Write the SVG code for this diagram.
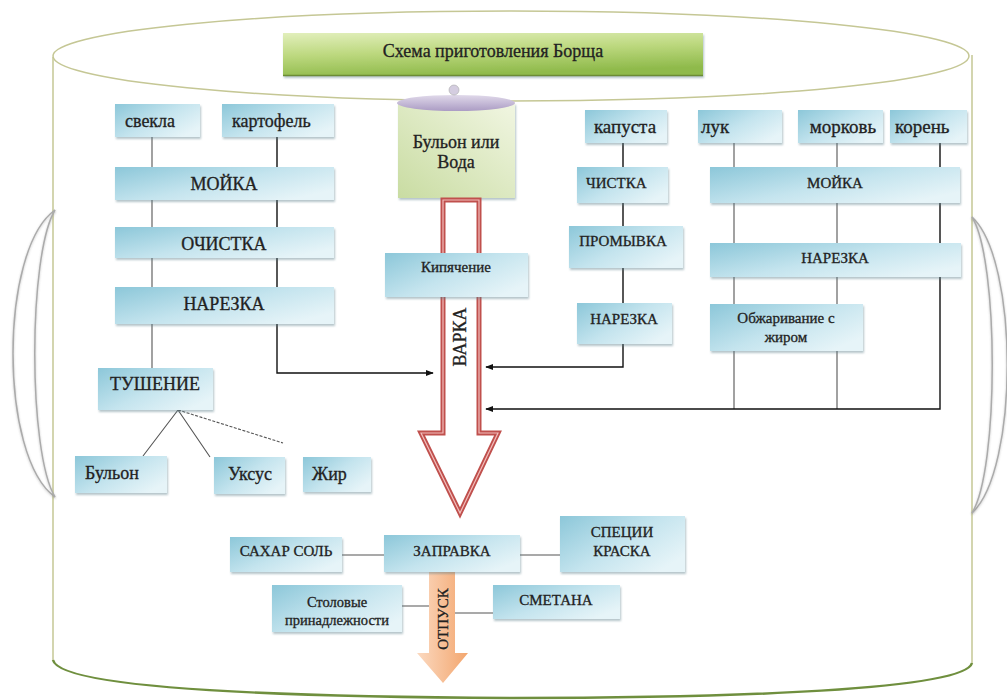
<svg xmlns="http://www.w3.org/2000/svg" width="1007" height="700" viewBox="0 0 1007 700">
<defs>
<linearGradient id="gBox" x1="0" y1="0" x2="1" y2="0.7">
<stop offset="0" stop-color="#8cc7d9"/>
<stop offset="0.55" stop-color="#c4e4ee"/>
<stop offset="1" stop-color="#e6f4f8"/>
</linearGradient>
<linearGradient id="gTitle" x1="0" y1="0" x2="0.3" y2="1">
<stop offset="0" stop-color="#e2efbc"/>
<stop offset="0.5" stop-color="#bcd87e"/>
<stop offset="1" stop-color="#8fba4b"/>
</linearGradient>
<linearGradient id="gPot" x1="0" y1="1" x2="1" y2="0">
<stop offset="0" stop-color="#c9dca2"/>
<stop offset="1" stop-color="#f1f6e2"/>
</linearGradient>
<linearGradient id="gLid" x1="0" y1="0" x2="0" y2="1">
<stop offset="0" stop-color="#e0d9ea"/>
<stop offset="1" stop-color="#ab9cc4"/>
</linearGradient>
<linearGradient id="gOut" x1="0" y1="0" x2="1" y2="0">
<stop offset="0" stop-color="#fbd9c0"/>
<stop offset="1" stop-color="#f3a66e"/>
</linearGradient>
<filter id="sh" x="-10%" y="-20%" width="120%" height="150%">
<feDropShadow dx="1" dy="2" stdDeviation="1.2" flood-color="#5a7f8a" flood-opacity="0.45"/>
</filter>
<filter id="shl" x="-50%" y="-10%" width="200%" height="120%">
<feDropShadow dx="0" dy="1" stdDeviation="1" flood-color="#777" flood-opacity="0.4"/>
</filter>
<marker id="ah" viewBox="0 0 10 10" refX="9" refY="5" markerWidth="8" markerHeight="8" orient="auto" markerUnits="userSpaceOnUse">
<path d="M0,1 L10,5 L0,9 Z" fill="#111"/>
</marker>
<style>
.box{fill:url(#gBox);filter:url(#sh);}
.t{font-family:"Liberation Serif","DejaVu Serif",serif;fill:#222;stroke:#222;stroke-width:0.3;font-size:18px;}
.m{font-size:15px;}
.s{font-size:14.5px;}
.l{font-size:19px;}
.c{text-anchor:middle;}
.ln{stroke:#555;stroke-width:1.1;fill:none;}
.ar{stroke:#111;stroke-width:1.4;fill:none;marker-end:url(#ah);}
.pot{fill:none;stroke:#c5c795;stroke-width:1.5;}
.hd{fill:none;stroke:#ababab;stroke-width:1.5;filter:url(#shl);}
</style>
</defs>
<rect width="1007" height="700" fill="#fff"/>

<g id="cylinder">
<ellipse class="pot" cx="511" cy="56" rx="458" ry="45"/>
<line class="pot" x1="53" y1="57" x2="53" y2="660"/>
<line class="pot" x1="972" y1="55" x2="972" y2="663"/>
<path d="M53,660 C60,690 300,697 513,698 C730,698 965,690 972,663" fill="none" stroke="#6f8f3e" stroke-width="2.5"/>
<path class="hd" d="M55,210 C-1,250 -1,457 55,497"/>
<path class="hd" d="M55,210 C28,255 28,452 55,497"/>
<path class="hd" d="M972,217 C1019,260 1019,470 972,513"/>
<path class="hd" d="M972,217 C999,260 999,470 972,513"/>
</g>

<g id="title">
<rect x="283" y="33" width="420" height="43" fill="url(#gTitle)" filter="url(#sh)"/>
<line x1="283" y1="75.5" x2="703" y2="75.5" stroke="#6b8c35" stroke-width="1.5"/>
<text class="t c" x="493" y="57" font-size="19">Схема приготовления Борща</text>
</g>

<g id="connectors">
<path class="ln" d="M152,137 V368"/>
<path class="ar" d="M277,137 V373 H433"/>
<path class="ln" d="M178,410 L143,456 M178,410 L210,457"/>
<path class="ln" d="M178,410 L283,443" stroke-dasharray="3,1.5"/>
<path class="ar" d="M623,143 V367 H486"/>
<path class="ln" d="M734,143 V409 M837,143 V409"/>
<path class="ar" d="M940,143 V409 H486"/>
<path class="ln" d="M342,555 H384 M520,555 H560"/>
<path class="ln" d="M402,606 H430 M455,613 H493"/>
</g>

<g id="pot">
<rect x="398" y="103" width="117" height="95" fill="url(#gPot)" filter="url(#sh)"/>
<ellipse cx="456" cy="103" rx="59" ry="8" fill="url(#gLid)"/>
<circle cx="454" cy="90" r="5" fill="#d4cde0" stroke="#aaa" stroke-width="0.6"/>
<text class="t c" x="456" y="148">Бульон или</text>
<text class="t c" x="456" y="168">Вода</text>
</g>

<g id="varka">
<path d="M443,200 L479,200 L479,433 L498,433 L460,513 L421,433 L443,433 Z" fill="#fff" stroke="#c0504d" stroke-width="5" stroke-linejoin="miter"/>
<path d="M443,200 L479,200 L479,433 L498,433 L460,513 L421,433 L443,433 Z" fill="none" stroke="#f2bdbb" stroke-width="1.2"/>
<text class="t c" transform="translate(466,337) rotate(-90)">ВАРКА</text>
</g>

<g id="kipyachenie"><rect class="box" x="385" y="253" width="143" height="44"/><text class="t m c" x="456" y="272">Кипячение</text></g>

<g id="svekla"><rect class="box" x="115" y="104" width="85" height="33"/><text class="t" x="125" y="127">свекла</text></g>
<g id="kartofel"><rect class="box" x="222" y="104" width="112" height="33"/><text class="t" x="232" y="127">картофель</text></g>
<g id="moika1"><rect class="box" x="115" y="167" width="219" height="33"/><text class="t c" x="224" y="190">МОЙКА</text></g>
<g id="ochistka"><rect class="box" x="115" y="227" width="219" height="31"/><text class="t c" x="224" y="250">ОЧИСТКА</text></g>
<g id="narezka1"><rect class="box" x="115" y="287" width="219" height="37"/><text class="t c" x="224" y="310">НАРЕЗКА</text></g>
<g id="tushenie"><rect class="box" x="98" y="368" width="115" height="42"/><text class="t c" x="155" y="390">ТУШЕНИЕ</text></g>
<g id="bulon"><rect class="box" x="75" y="456" width="92" height="37"/><text class="t" x="85" y="479">Бульон</text></g>
<g id="uksus"><rect class="box" x="214" y="457" width="71" height="37"/><text class="t c" x="250" y="480" font-size="16.5">Уксус</text></g>
<g id="zhir"><rect class="box" x="303" y="457" width="68" height="35"/><text class="t" x="312" y="480">Жир</text></g>

<g id="kapusta"><rect class="box" x="585" y="110" width="82" height="33"/><text class="t l c" x="625" y="133">капуста</text></g>
<g id="chistka"><rect class="box" x="577" y="167" width="91" height="36"/><text class="t m" x="586" y="188">ЧИСТКА</text></g>
<g id="promyvka"><rect class="box" x="569" y="226" width="114" height="42"/><text class="t m c" x="623" y="246">ПРОМЫВКА</text></g>
<g id="narezka2"><rect class="box" x="577" y="303" width="95" height="41"/><text class="t m c" x="624" y="324">НАРЕЗКА</text></g>

<g id="luk"><rect class="box" x="698" y="110" width="84" height="33"/><text class="t l" x="701" y="133">лук</text></g>
<g id="morkov"><rect class="box" x="798" y="110" width="85" height="33"/><text class="t l c" x="843" y="133">морковь</text></g>
<g id="koren"><rect class="box" x="890" y="110" width="77" height="33"/><text class="t l" x="895" y="133">корень</text></g>
<g id="moika2"><rect class="box" x="710" y="167" width="250" height="36"/><text class="t m c" x="835" y="188">МОЙКА</text></g>
<g id="narezka3"><rect class="box" x="710" y="243" width="251" height="34"/><text class="t m c" x="835" y="263">НАРЕЗКА</text></g>
<g id="obzharivanie"><rect class="box" x="710" y="304" width="153" height="47"/><text class="t m c" x="786" y="323">Обжаривание с</text><text class="t m c" x="786" y="342">жиром</text></g>

<g id="otpusk">
<path d="M429,572 H455 V653 H468 L443,683 L417,653 H429 Z" fill="url(#gOut)"/>
<text class="t m c" transform="translate(448,619) rotate(-90)">ОТПУСК</text>
</g>

<g id="sahar"><rect class="box" x="230" y="537" width="112" height="35"/><text class="t m c" x="286" y="556">САХАР СОЛЬ</text></g>
<g id="zapravka"><rect class="box" x="384" y="535" width="136" height="37"/><text class="t m c" x="452" y="556">ЗАПРАВКА</text></g>
<g id="specii"><rect class="box" x="560" y="516" width="125" height="56"/><text class="t m c" x="622" y="537">СПЕЦИИ</text><text class="t m c" x="622" y="556">КРАСКА</text></g>
<g id="stolovye"><rect class="box" x="272" y="585" width="130" height="47"/><text class="t s c" x="337" y="607">Столовые</text><text class="t s c" x="337" y="625">принадлежности</text></g>
<g id="smetana"><rect class="box" x="493" y="585" width="127" height="34"/><text class="t m c" x="556" y="605">СМЕТАНА</text></g>
</svg>
